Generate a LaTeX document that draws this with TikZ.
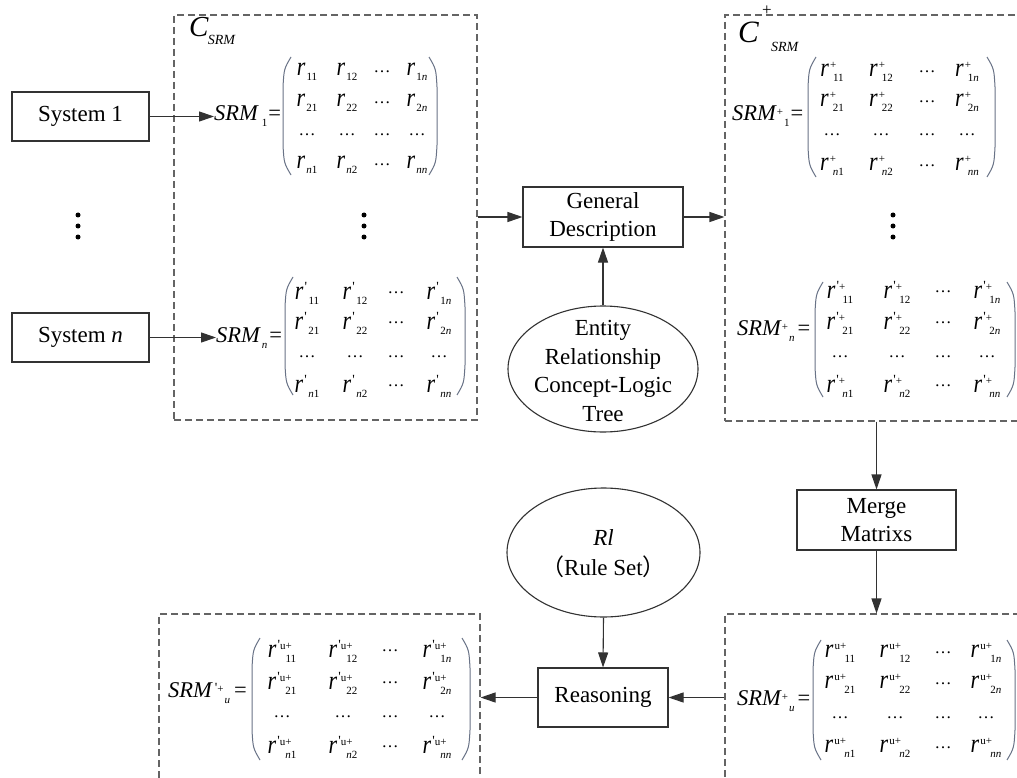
\documentclass[tikz,border=0pt]{standalone}
\usepackage{fontspec}
\setmainfont{Liberation Serif}
\newfontfamily\cjk{Noto Sans CJK SC}
\usepackage{graphicx}
\usetikzlibrary{arrows.meta,shapes.geometric}
\definecolor{parc}{RGB}{105,115,135}
\definecolor{linec}{RGB}{50,50,50}
\definecolor{dashc}{RGB}{100,100,100}

\newcommand\ent[3]{\scalebox{1}[1.2]{\textit{r}}\kern1pt\rlap{\raisebox{8pt}{\fontsize{11}{11}\selectfont #1}}\kern#3\raisebox{-5pt}{\fontsize{11}{11}\selectfont #2}}
\newcommand\idx[1]{\ifcase#1 \or 1\or 2\or \or \textit{n}\fi}
\newcommand\dotsent{{\fontsize{17}{17}\selectfont …}}
\newcommand\pr{{\fontsize{14}{14}\selectfont\textquotesingle}}

\newcommand\mymat[9]{%
\foreach \cx [count=\j] in {#4}{%
  \foreach \cy [count=\i] in {#5}{%
    \ifnum\i=3
      \node[ent] (#1-\i-\j) at (\cx,\cy) {\dotsent};
    \else\ifnum\j=3
      \node[ent] (#1-\i-\j) at (\cx,\cy) {\dotsent};
    \else
      \node[ent] (#1-\i-\j) at (\cx,\cy) {\ent{#2}{\idx{\i}\idx{\j}}{#3}};
    \fi\fi
  }}%
\draw[paren] (#6+8,#8) .. controls (#6+1,#8+12) .. (#6,#8+30) -- (#6,#9-30) .. controls (#6+1,#9-12) .. (#6+8,#9);
\draw[paren] (#7-8,#8) .. controls (#7-1,#8+12) .. (#7,#8+30) -- (#7,#9-30) .. controls (#7-1,#9-12) .. (#7-8,#9);
}

\tikzset{
  ent/.style={inner sep=0pt, font=\fontsize{22}{22}\selectfont},
  paren/.style={draw=parc, line width=1pt},
  lab/.style={inner sep=0pt, anchor=base west, font=\fontsize{22.5}{22.5}\selectfont},
  sbox/.style={draw=linec, line width=1.1pt, rectangle, inner sep=0pt, align=center,
     font=\fontsize{23}{28.5}\selectfont},
  ell/.style={draw=linec, line width=1.1pt, ellipse, inner sep=0pt},
  txt/.style={inner sep=0pt, align=center, font=\fontsize{23}{28.5}\selectfont},
  dbox/.style={draw=dashc, line width=1.1pt, dash pattern=on 7pt off 4pt, rectangle, inner sep=0pt},
  arr/.style={draw=linec, line width=1.1pt, -{Triangle[length=15pt,width=10pt]}},
}

\begin{document}
\begin{tikzpicture}[x=1pt,y=-1pt]
\useasboundingbox (0,0) rectangle (1017,778);
\clip (0,0) rectangle (1017,778);
\fill[white] (0,0) rectangle (1017,778);

% dashed containers
\node[dbox, minimum width=303pt, minimum height=405pt] (boxL) at (325.5,217.5) {};
\node[dbox, minimum width=305pt, minimum height=406pt] (boxR) at (877.5,218) {};
\node[dbox, minimum width=305pt, minimum height=180pt] (boxRB) at (877.5,704) {};
\node[dbox, minimum width=321pt, minimum height=180pt] (boxLB) at (319.5,704) {};

% systems
\node[sbox, minimum width=137pt, minimum height=49pt] (sys1) at (80.5,116.5) {System 1};
\node[sbox, minimum width=137pt, minimum height=49pt] (sysn) at (80.5,337.5) {System \textit{n}};
\foreach \dx in {78,364,893}{
  \fill (\dx,215) circle[radius=2.5pt];
  \fill (\dx,226) circle[radius=2.5pt];
  \fill (\dx,237) circle[radius=2.5pt];
}

% middle
\node[sbox, minimum width=160pt, minimum height=60pt] (gd) at (603,217) {General\\Description};
\node[ell, minimum width=190pt, minimum height=126pt] (ert) at (603,369) {};
\node[txt] (ertt) at (603,371) {Entity\\Relationship\\Concept-Logic\\Tree};
\node[sbox, minimum width=159pt, minimum height=60pt] (merge) at (876.5,520) {Merge\\Matrixs};
\node[ell, minimum width=193pt, minimum height=129pt] (rl) at (603.5,552.5) {};
\node[txt, font=\fontsize{23}{30}\selectfont] (rlt) at (603.5,554) {\textit{Rl}\\{\cjk （}Rule Set{\cjk ）}};
\node[sbox, minimum width=130pt, minimum height=59pt] (reas) at (603,697.5) {Reasoning};

% titles
\node[inner sep=0pt, anchor=base west] (csrm) at (189,37)
  {\fontsize{29}{29}\selectfont\textit{C}\kern-1pt\raisebox{-8pt}{\fontsize{14}{14}\selectfont\textit{SRM}}};
\node[inner sep=0pt, anchor=base west] (cplus) at (738,43)
  {\fontsize{31}{31}\selectfont\textit{C}\rlap{\kern3pt\raisebox{27pt}{\fontsize{17}{17}\selectfont +}}\kern12pt\raisebox{-9pt}{\fontsize{14}{14}\selectfont\textit{SRM}}};

% matrix labels
\node[lab] (s1) at (214,121) {\textit{SRM}\kern3pt\raisebox{-6pt}{\fontsize{11}{11}\selectfont 1}\kern1pt=};
\node[lab] (sn) at (216,342) {\textit{SRM}\kern1pt\raisebox{-6pt}{\fontsize{11}{11}\selectfont\textit{n}}\kern2pt=};
\node[lab] (sp1) at (732,121) {\textit{SRM}\raisebox{5pt}{\fontsize{11}{11}\selectfont +}\kern1pt\raisebox{-6pt}{\fontsize{11}{11}\selectfont 1}\kern1pt=};
\node[lab] (spn) at (737,335) {\textit{SRM}\raisebox{5pt}{\fontsize{11}{11}\selectfont +}\kern1pt\raisebox{-6pt}{\fontsize{11}{11}\selectfont\textit{n}}\kern3pt=};
\node[lab] (su) at (737,705) {\textit{SRM}\raisebox{5pt}{\fontsize{11}{11}\selectfont +}\kern1pt\raisebox{-6pt}{\fontsize{11}{11}\selectfont\textit{u}}\kern3pt=};
\node[lab] (spu) at (168,697) {\textit{SRM}\kern2pt\raisebox{5pt}{\fontsize{11}{11}\selectfont\pr+}\kern1pt\raisebox{-6pt}{\fontsize{11}{11}\selectfont\textit{u}}\kern4pt=};

% matrices
\mymat{ma}{}{0pt}{307,347,382,417}{72,103,135,165}{283}{437}{57}{175}
\mymat{mb}{\pr}{4pt}{307,355,396,439}{293,323,357,386}{285}{465}{277}{395}
\mymat{mc}{+}{3pt}{832,881,927,967}{72,102,135,166}{808}{995}{57}{177}
\mymat{md}{\pr+}{6pt}{840,897,943,987}{292,323,357,386}{815}{1015}{282}{397}
\mymat{me}{u+}{10pt}{840,895,943,986}{653,684,718,748}{813}{1015}{640}{760}
\mymat{mf}{\pr u+}{8pt}{282,343,390,437}{651,683,717,747}{252}{470}{638}{760}

% connectors
\draw[arr] (sys1.east) -- (sys1.east -| s1.west);
\draw[arr] (sysn.east) -- (sysn.east -| sn.west);
\draw[arr] (gd.west -| boxL.east) -- (gd.west);
\draw[arr] (gd.east) -- (gd.east -| boxR.west);
\draw[arr] (ert.north) -- (gd.south);
\draw[arr] (merge.north |- boxR.south) -- (merge.north);
\draw[arr] (merge.south) -- (merge.south |- boxRB.north);
\draw[arr] (reas.east -| boxRB.west) -- (reas.east);
\draw[arr] (reas.west) -- (reas.west -| boxLB.east);
\draw[arr] (rl.south) -- (reas.north);
\end{tikzpicture}
\end{document}
